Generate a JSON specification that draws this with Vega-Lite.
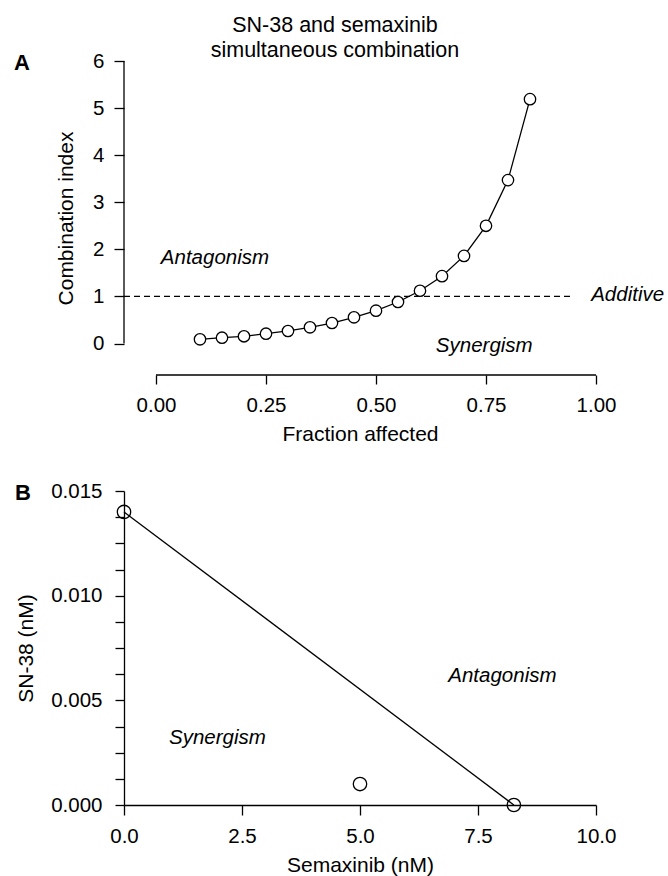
{
  "$schema": "https://vega.github.io/schema/vega-lite/v6.json",
  "padding": {"left": 13, "top": 14, "right": 0, "bottom": 0},
  "autosize": {"type": "pad"},
  "background": "white",
  "spacing": 36,
  "config": {
    "font": "Liberation Sans",
    "view": {"stroke": null},
    "axis": {
      "grid": false,
      "labelFont": "Liberation Sans",
      "titleFont": "Liberation Sans",
      "labelFontSize": 20.5,
      "titleFontSize": 21,
      "titleFontWeight": "normal",
      "labelColor": "black",
      "titleColor": "black",
      "tickColor": "black",
      "domainColor": "black",
      "tickWidth": 1.3,
      "domainWidth": 1.3,
      "labelFlush": false,
      "labelOverlap": false
    }
  },
  "vconcat": [
    {
      "width": 472,
      "height": 314,
      "title": {
        "text": ["SN-38 and semaxinib", "simultaneous combination"],
        "fontSize": 21.5,
        "fontWeight": "normal",
        "font": "Liberation Sans",
        "lineHeight": 25,
        "frame": "group",
        "anchor": "middle",
        "dx": -25,
        "offset": -10,
        "color": "black"
      },
      "encoding": {
        "x": {
          "field": "x",
          "type": "quantitative",
          "scale": {"domain": [-0.0727, 1], "nice": false, "zero": false},
          "axis": {
            "title": "Fraction affected",
            "values": [0, 0.25, 0.5, 0.75, 1],
            "format": ".2f",
            "domain": false,
            "tickSize": 9,
            "labelPadding": 11,
            "titlePadding": 8
          }
        },
        "y": {
          "field": "y",
          "type": "quantitative",
          "scale": {"domain": [-0.669, 6], "nice": false, "zero": false},
          "axis": {
            "title": "Combination index",
            "values": [0, 1, 2, 3, 4, 5, 6],
            "format": "d",
            "domain": false,
            "tickSize": 10,
            "labelPadding": 10,
            "titlePadding": 16
          }
        }
      },
      "layer": [
        {
          "data": {"values": [{"x": -0.0727, "y": 0, "y2": 6}]},
          "mark": {"type": "rule", "color": "black", "strokeWidth": 1.3},
          "encoding": {"y2": {"field": "y2"}}
        },
        {
          "data": {"values": [{"x": 0, "x2": 1, "y": -0.669}]},
          "mark": {"type": "rule", "color": "black", "strokeWidth": 1.3},
          "encoding": {"x2": {"field": "x2"}}
        },
        {
          "data": {"values": [{"x": -0.0727, "x2": 0.95, "y": 1}]},
          "mark": {"type": "rule", "color": "black", "strokeWidth": 1.1, "strokeDash": [6, 4]},
          "encoding": {"x2": {"field": "x2"}}
        },
        {
          "data": {"values": [
            {"x": 0.10, "y": 0.089},
            {"x": 0.15, "y": 0.123},
            {"x": 0.20, "y": 0.153},
            {"x": 0.25, "y": 0.208},
            {"x": 0.30, "y": 0.266},
            {"x": 0.35, "y": 0.344},
            {"x": 0.40, "y": 0.435},
            {"x": 0.45, "y": 0.556},
            {"x": 0.50, "y": 0.697},
            {"x": 0.55, "y": 0.881},
            {"x": 0.60, "y": 1.12},
            {"x": 0.65, "y": 1.43},
            {"x": 0.70, "y": 1.86},
            {"x": 0.75, "y": 2.50},
            {"x": 0.80, "y": 3.47},
            {"x": 0.85, "y": 5.19}
          ]},
          "layer": [
            {"mark": {"type": "line", "color": "black", "strokeWidth": 1.3}, "encoding": {}},
            {"mark": {"type": "point", "shape": "circle", "size": 130, "filled": true, "fill": "white", "stroke": "black", "strokeWidth": 1.3, "opacity": 1}, "encoding": {}}
          ]
        },
        {
          "data": {"values": [
            {"x": 0.011, "y": 1.69, "label": "Antagonism"},
            {"x": 0.636, "y": -0.174, "label": "Synergism"},
            {"x": 0.989, "y": 0.909, "label": "Additive"}
          ]},
          "mark": {"type": "text", "align": "left", "baseline": "alphabetic", "fontSize": 20.5, "fontStyle": "italic", "font": "Liberation Sans", "color": "black"},
          "encoding": {"text": {"field": "label"}}
        },
        {
          "data": {"values": [{"x": -0.3227, "y": 5.81, "label": "A"}]},
          "mark": {"type": "text", "align": "left", "baseline": "alphabetic", "fontSize": 22, "fontWeight": "bold", "font": "Liberation Sans", "color": "black"},
          "encoding": {"text": {"field": "label"}}
        }
      ]
    },
    {
      "width": 472,
      "height": 314,
      "encoding": {
        "x": {
          "field": "x",
          "type": "quantitative",
          "scale": {"domain": [0, 10], "nice": false, "zero": false},
          "axis": {
            "title": "Semaxinib (nM)",
            "values": [0, 2.5, 5, 7.5, 10],
            "format": ".1f",
            "tickSize": 10,
            "labelPadding": 11,
            "titlePadding": 8
          }
        },
        "y": {
          "field": "y",
          "type": "quantitative",
          "scale": {"domain": [0, 0.015], "nice": false, "zero": false},
          "axis": {
            "title": "SN-38 (nM)",
            "values": [0, 0.00125, 0.0025, 0.00375, 0.005, 0.00625, 0.0075, 0.00875, 0.01, 0.01125, 0.0125, 0.01375, 0.015],
            "labelExpr": "abs(datum.value*200 - round(datum.value*200)) < 0.000001 ? format(datum.value, '.3f') : ''",
            "tickSize": 9,
            "labelPadding": 13,
            "titlePadding": 14
          }
        }
      },
      "layer": [
        {
          "data": {"values": [{"x": 0, "y": 0.014}, {"x": 8.26, "y": 0}]},
          "mark": {"type": "line", "color": "black", "strokeWidth": 1.3},
          "encoding": {}
        },
        {
          "data": {"values": [{"x": 0, "y": 0.014}, {"x": 5, "y": 0.001}, {"x": 8.26, "y": 0}]},
          "mark": {"type": "point", "shape": "circle", "size": 180, "filled": false, "stroke": "black", "strokeWidth": 1.3, "opacity": 1},
          "encoding": {}
        },
        {
          "data": {"values": [
            {"x": 0.953, "y": 0.002914, "label": "Synergism"},
            {"x": 6.87, "y": 0.00589, "label": "Antagonism"}
          ]},
          "mark": {"type": "text", "align": "left", "baseline": "alphabetic", "fontSize": 20.5, "fontStyle": "italic", "font": "Liberation Sans", "color": "black"},
          "encoding": {"text": {"field": "label"}}
        },
        {
          "data": {"values": [{"x": -2.31, "y": 0.014585, "label": "B"}]},
          "mark": {"type": "text", "align": "left", "baseline": "alphabetic", "fontSize": 22, "fontWeight": "bold", "font": "Liberation Sans", "color": "black"},
          "encoding": {"text": {"field": "label"}}
        }
      ]
    }
  ]
}
